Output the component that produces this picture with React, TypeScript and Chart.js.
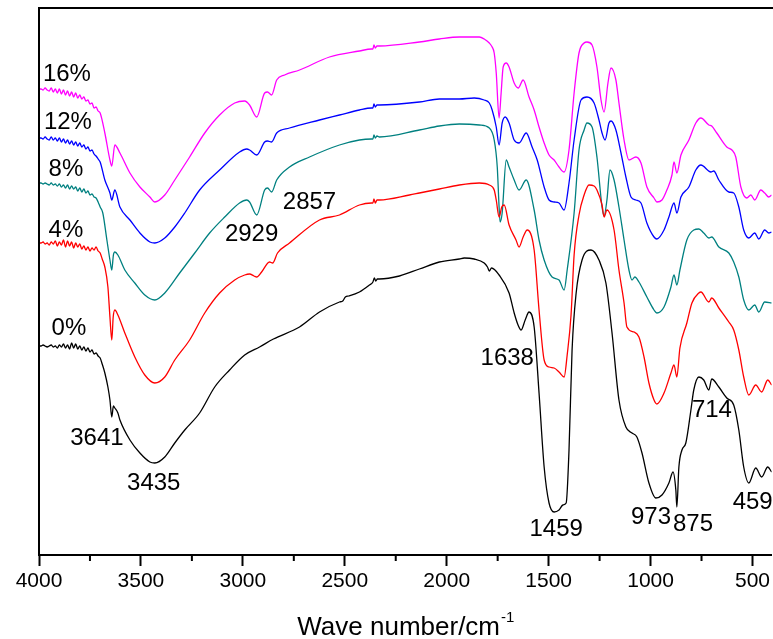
import { useEffect, useRef } from 'react';
import { Chart, registerables } from 'chart.js';

Chart.register(...registerables);

type P = [number, number];

// wavenumber (cm-1), relative transmittance (arbitrary units, offset per curve)
const s0: P[] = [
  [4000,209],[3990,209],[3980,210],[3970,209],[3960,208],[3950,209],[3940,210],[3930,208],[3920,209],[3910,207],[3900,210],[3890,208],[3880,211],[3870,207],[3860,210],[3850,206],[3840,212],[3830,207],[3820,211],[3810,206],[3800,209],[3790,205],[3780,208],[3770,204],[3760,207],[3750,203],[3740,205],[3730,201],[3720,202],[3710,199],[3700,197],
  [3690,191],[3677,182],[3662,168],[3652,155],[3643,138],[3635,149],[3628,147],[3613,142],[3603,135],[3554,115],[3505,102],[3456,93],[3432,92],[3383,98],[3334,112],[3285,125],[3212,142],[3138,168],[3065,185],[2991,200],[2918,208],[2850,216],[2722,228],[2624,243],[2526,253],[2510,254],[2497,258],[2480,259],[2428,263],[2379,270],[2362,273],[2355,277],[2348,274],[2340,276],[2330,276],[2232,279],[2134,286],[2036,293],[1938,296],[1914,297],[1865,296],[1816,292],[1800,288],[1791,284],[1780,287],[1743,280],[1694,262],[1669,242],[1650,230],[1635,225],[1615,235],[1596,243],[1571,228],[1547,162],[1522,88],[1498,52],[1473,43],[1449,45],[1430,50],[1414,52],[1400,105],[1385,205],[1365,262],[1336,295],[1292,305],[1253,295],[1219,272],[1189,222],[1155,155],[1121,128],[1091,122],[1067,118],[1042,102],[1008,72],[974,57],[944,60],[910,72],[890,83],[876,65],[871,48],[861,88],[846,105],[827,112],[802,145],[788,165],[763,178],[739,175],[714,165],[700,176],[665,168],[626,157],[592,150],[567,125],[543,88],[518,72],[484,87],[455,78],[425,88],[406,83],
];

const s4: P[] = [
  [4000,312],[3990,312],[3980,313],[3970,311],[3960,312],[3950,310],[3940,313],[3930,311],[3920,314],[3910,309],[3900,313],[3890,310],[3880,315],[3870,308],[3860,314],[3850,309],[3840,313],[3830,307],[3820,312],[3810,308],[3800,311],[3790,306],[3780,309],[3770,305],[3760,308],[3750,304],[3740,307],[3730,305],[3720,308],[3710,304],[3700,302],
  [3690,296],[3677,288],[3662,268],[3652,238],[3643,215],[3636,238],[3628,245],[3613,240],[3579,222],[3530,198],[3481,180],[3432,172],[3383,178],[3334,195],[3261,215],[3187,242],[3114,262],[3040,275],[2991,280],[2967,281],[2945,279],[2932,278],[2908,283],[2869,293],[2854,292],[2830,302],[2771,312],[2624,335],[2526,340],[2428,350],[2369,352],[2362,352],[2357,356],[2350,352],[2342,355],[2330,355],[2183,360],[2134,362],[2036,366],[1938,370],[1840,372],[1791,370],[1767,365],[1757,355],[1743,338],[1730,348],[1718,350],[1694,330],[1660,315],[1645,308],[1625,318],[1605,325],[1571,305],[1547,245],[1522,195],[1498,188],[1473,187],[1449,183],[1424,178],[1409,200],[1390,240],[1375,300],[1351,340],[1326,360],[1302,370],[1277,369],[1263,365],[1238,350],[1228,338],[1214,345],[1179,325],[1155,285],[1130,252],[1116,228],[1081,223],[1057,218],[1032,198],[1008,172],[983,155],[969,151],[934,162],[900,182],[885,190],[871,178],[856,207],[822,232],[797,252],[763,262],[753,263],[714,253],[700,257],[665,247],[616,233],[592,225],[567,205],[543,178],[518,160],[484,170],[455,163],[425,175],[406,170],
];

const s8: P[] = [
  [4000,372],[3990,372],[3980,371],[3970,372],[3960,371],[3950,370],[3940,372],[3930,370],[3920,371],[3910,369],[3900,371],[3890,368],[3880,370],[3870,367],[3860,370],[3850,366],[3840,369],[3830,366],[3820,368],[3810,364],[3800,367],[3790,363],[3780,366],[3770,362],[3760,364],[3750,360],[3740,361],[3730,358],[3720,357],[3710,353],[3700,348],
  [3687,342],[3667,315],[3652,295],[3643,285],[3635,300],[3628,303],[3613,300],[3579,285],[3530,272],[3481,260],[3432,255],[3383,262],[3310,282],[3236,302],[3163,322],[3089,338],[3016,352],[2981,355],[2967,353],[2932,340],[2893,365],[2879,367],[2859,363],[2834,375],[2771,388],[2673,398],[2526,410],[2428,415],[2369,416],[2362,416],[2357,420],[2350,417],[2342,419],[2330,418],[2134,425],[2036,429],[1938,431],[1840,430],[1791,427],[1767,415],[1752,388],[1743,348],[1738,333],[1728,342],[1708,395],[1694,388],[1669,375],[1645,365],[1610,375],[1571,345],[1547,315],[1522,295],[1483,278],[1449,275],[1424,265],[1409,285],[1375,342],[1351,405],[1326,425],[1312,432],[1287,428],[1263,398],[1238,348],[1228,339],[1214,355],[1199,385],[1179,375],[1155,348],[1130,315],[1106,285],[1091,275],[1077,278],[1057,273],[1018,258],[983,245],[969,242],[934,248],[900,268],[885,280],[871,270],[856,285],[822,315],[788,325],[763,326],[739,322],[714,317],[700,318],[665,308],[616,302],[592,293],[567,278],[543,255],[518,245],[489,250],[469,243],[440,253],[406,252],
];

const s12: P[] = [
  [4000,417],[3990,417],[3980,416],[3970,418],[3960,416],[3950,415],[3940,418],[3930,415],[3920,417],[3910,414],[3900,417],[3890,413],[3880,416],[3870,412],[3860,415],[3850,411],[3840,414],[3830,410],[3820,413],[3810,409],[3800,412],[3790,408],[3780,410],[3770,406],[3760,408],[3750,404],[3740,405],[3730,401],[3720,399],[3710,396],[3700,393],
  [3677,375],[3652,362],[3643,355],[3628,365],[3603,348],[3554,335],[3505,322],[3456,313],[3432,312],[3383,317],[3334,328],[3285,342],[3212,365],[3114,385],[3016,403],[2981,406],[2967,405],[2932,400],[2893,413],[2879,414],[2859,413],[2834,422],[2771,427],[2624,435],[2526,440],[2428,445],[2369,447],[2362,447],[2357,451],[2350,448],[2342,450],[2330,450],[2134,453],[2036,456],[1938,456],[1865,457],[1816,455],[1791,452],[1777,445],[1757,428],[1743,410],[1728,432],[1713,438],[1694,432],[1669,415],[1645,412],[1610,422],[1581,408],[1556,395],[1522,368],[1498,355],[1473,353],[1449,352],[1424,345],[1400,372],[1375,415],[1341,455],[1312,458],[1277,452],[1253,435],[1238,422],[1223,415],[1204,432],[1194,434],[1170,425],[1145,402],[1121,378],[1096,358],[1072,355],[1047,352],[1018,332],[983,318],[969,316],[934,325],[910,338],[885,352],[871,342],[851,358],[812,368],[778,385],[753,390],[704,383],[690,384],[665,375],[616,363],[592,362],[567,348],[543,325],[518,317],[489,322],[469,316],[440,325],[420,322],[406,323],
];

const s16: P[] = [
  [4000,466],[3990,466],[3980,465],[3970,467],[3960,465],[3950,464],[3940,467],[3930,463],[3920,466],[3910,462],[3900,466],[3890,461],[3880,465],[3870,460],[3860,464],[3850,459],[3840,463],[3830,458],[3820,462],[3810,457],[3800,460],[3790,456],[3780,458],[3770,454],[3760,455],[3750,451],[3740,452],[3730,447],[3720,448],[3710,444],[3700,442],
  [3677,422],[3652,395],[3643,389],[3628,410],[3603,402],[3554,382],[3505,368],[3456,358],[3432,353],[3383,360],[3334,375],[3261,398],[3187,422],[3114,440],[3040,452],[2991,454],[2967,450],[2932,438],[2893,462],[2879,463],[2859,460],[2834,475],[2795,480],[2722,485],[2575,498],[2428,504],[2369,506],[2362,506],[2357,510],[2350,507],[2342,509],[2330,509],[2134,513],[2036,516],[1938,518],[1840,518],[1816,516],[1791,512],[1777,508],[1767,502],[1757,482],[1743,437],[1733,462],[1723,488],[1708,492],[1694,488],[1669,472],[1649,467],[1625,475],[1596,458],[1571,445],[1547,428],[1522,412],[1498,400],[1473,395],[1449,388],[1424,383],[1400,405],[1375,462],[1351,502],[1326,512],[1312,513],[1287,510],[1263,488],[1243,455],[1228,443],[1209,472],[1194,487],[1170,475],[1155,452],[1130,415],[1106,395],[1072,398],[1047,392],[1018,368],[983,357],[969,353],[944,355],[920,365],[895,380],[885,393],[871,382],[851,400],[812,415],[778,432],[753,437],[714,430],[700,429],[675,422],[626,408],[601,405],[582,398],[557,368],[528,357],[508,360],[489,355],[459,365],[440,362],[420,358],[406,360],
];

const seriesNames = ['0%', '4%', '8%', '12%', '16%'];
const seriesData = [s0, s4, s8, s12, s16];
const seriesColors = ['#000000', '#ff0000', '#008080', '#0000ff', '#ff00ff'];

// text annotations: [text, wavenumber, value]
const annotations: [string, number, number][] = [
  ['16%', 3863, 481], ['12%', 3858, 433], ['8%', 3868, 386], ['4%', 3868, 325], ['0%', 3853, 227],
  ['3641', 3716, 117], ['3435', 3437, 72], ['2929', 2957, 321], ['2857', 2673, 353],
  ['1638', 1703, 197], ['1459', 1463, 26], ['973', 998, 38], ['875', 792, 31],
  ['714', 699, 145], ['459', 499, 53],
];

const majorTicks = [4000, 3500, 3000, 2500, 2000, 1500, 1000, 500];
const minorTicks = [3750, 3250, 2750, 2250, 1750, 1250, 750];
const xMin = 406;
const xMax = 4000;
const FONT = '"Liberation Sans", Arial, sans-serif';

export default function App() {
  const ref = useRef<HTMLCanvasElement>(null);

  useEffect(() => {
    const canvas = ref.current;
    if (!canvas) return;

    const decor = {
      id: 'decor',
      afterDraw(chart: any) {
        const { ctx, chartArea } = chart;
        const xs = chart.scales.x;
        const ys = chart.scales.y;
        ctx.save();
        // frame: left and top
        ctx.strokeStyle = '#000';
        ctx.lineWidth = 2;
        ctx.beginPath();
        ctx.moveTo(chartArea.left, chartArea.bottom);
        ctx.lineTo(chartArea.left, chartArea.top);
        ctx.lineTo(chartArea.right + 2, chartArea.top);
        ctx.stroke();
        // minor ticks
        ctx.beginPath();
        for (const v of minorTicks) {
          const px = xs.getPixelForValue(v);
          ctx.moveTo(px, chartArea.bottom);
          ctx.lineTo(px, chartArea.bottom + 6);
        }
        ctx.stroke();
        // annotations
        ctx.fillStyle = '#000';
        ctx.font = `24px ${FONT}`;
        ctx.textAlign = 'center';
        ctx.textBaseline = 'middle';
        for (const [t, wn, val] of annotations) {
          ctx.fillText(t, xs.getPixelForValue(wn), ys.getPixelForValue(val));
        }
        // axis title with superscript
        const main = 'Wave number/cm';
        const sup = '-1';
        ctx.font = `26px ${FONT}`;
        const w1 = ctx.measureText(main).width;
        ctx.font = `15px ${FONT}`;
        const w2 = ctx.measureText(sup).width;
        const cx = (chartArea.left + chartArea.right) / 2;
        const x0 = cx - (w1 + w2) / 2;
        const base = chartArea.bottom + 80;
        ctx.textAlign = 'left';
        ctx.textBaseline = 'alphabetic';
        ctx.font = `26px ${FONT}`;
        ctx.fillText(main, x0, base);
        ctx.font = `15px ${FONT}`;
        ctx.fillText(sup, x0 + w1 + 1, base - 13);
        ctx.restore();
      },
    };

    const chart = new Chart(canvas, {
      type: 'line',
      data: {
        datasets: seriesData.map((d, i) => ({
          label: seriesNames[i],
          data: d.map(([x, y]) => ({ x, y })).reverse(),
          borderColor: seriesColors[i],
          backgroundColor: seriesColors[i],
          borderWidth: 1.3,
          pointRadius: 0,
          cubicInterpolationMode: 'monotone' as const,
          fill: false,
        })),
      },
      options: {
        animation: false,
        responsive: false,
        maintainAspectRatio: false,
        layout: { padding: { left: 39, top: 8, right: 0, bottom: 0 } },
        plugins: {
          legend: { display: false },
          tooltip: { enabled: false },
          title: { display: false },
        },
        scales: {
          x: {
            type: 'linear',
            reverse: true,
            min: xMin,
            max: xMax,
            afterBuildTicks: (s: any) => {
              s.ticks = majorTicks.map((v) => ({ value: v }));
            },
            grid: {
              display: true,
              drawOnChartArea: false,
              drawTicks: true,
              tickLength: 11,
              tickWidth: 2,
              tickColor: '#000',
            },
            border: { display: true, color: '#000', width: 2 },
            ticks: {
              autoSkip: false,
              maxRotation: 0,
              minRotation: 0,
              color: '#000',
              padding: 3,
              font: { family: FONT, size: 21 },
              callback: (v: any) => String(v),
            },
            afterFit: (s: any) => {
              s.height = 84;
            },
          },
          y: { display: false, min: 0, max: 547 },
        },
      },
      plugins: [decor],
    });

    return () => chart.destroy();
  }, []);

  return (
    <div style={{ position: 'fixed', left: 0, top: 0, width: 773, height: 639, background: '#fff' }}>
      <canvas ref={ref} width={773} height={639} style={{ display: 'block', width: 773, height: 639 }} />
    </div>
  );
}
